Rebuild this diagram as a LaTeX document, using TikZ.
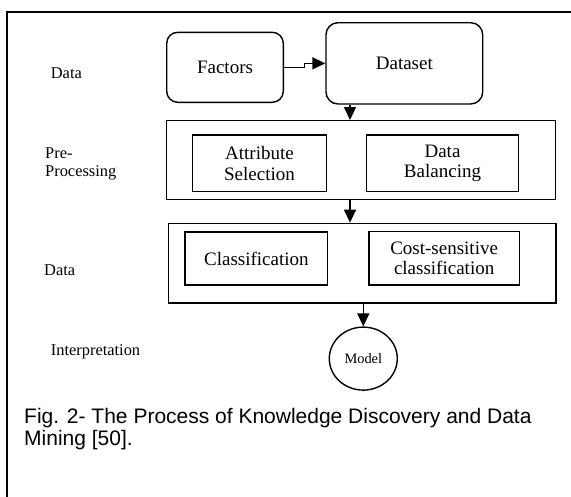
\documentclass[tikz,border=0pt]{standalone}
\usepackage{fontspec}
\setmainfont{Liberation Serif}
\newfontfamily\capfont{Liberation Sans}
\usetikzlibrary{arrows.meta,shapes.geometric}
\begin{document}
\begin{tikzpicture}[x=1pt,y=-1pt,
  rbox/.style={draw, line width=1.4pt, rounded corners=11pt, inner sep=0pt, align=center, font=\fontsize{19}{20.7}\selectfont},
  sbox/.style={draw, line width=1.4pt, inner sep=0pt, align=center, font=\fontsize{19}{20.7}\selectfont},
  lab/.style={anchor=west, align=left, inner sep=0pt, font=\fontsize{16.4}{18.3}\selectfont},
  arr/.style={line width=1.5pt, -{Triangle[length=13pt,width=12pt]}}]
\useasboundingbox (0,0) rectangle (571,496);
% outer frame
\draw[line width=1.6pt] (6.7,510) -- (6.7,11.7) -- (590,11.7);
% nodes
\node[rbox, minimum width=116.6pt, minimum height=70pt] (fac) at (225,67.3) {Factors};
\node[rbox, rounded corners=12pt, minimum width=156.7pt, minimum height=81.3pt] (ds) at (404.35,63.35) {Dataset};
\node[sbox, minimum width=388.8pt, minimum height=79pt] (pre) at (361.1,160.2) {};
\node[sbox, minimum width=134.4pt, minimum height=56.7pt] (attr) at (259.5,163.35) {Attribute\\Selection};
\node[sbox, minimum width=151.6pt, minimum height=56.7pt] (bal) at (442.5,163.35) {Data\\Balancing};
\node[sbox, minimum width=387.7pt, minimum height=79.7pt] (cls) at (362.15,263.15) {};
\node[sbox, minimum width=142.7pt, minimum height=53pt] (clf) at (256.35,258.5) {Classification};
\node[sbox, minimum width=150.3pt, minimum height=53.7pt] (cost) at (444.15,258.15) {Cost-sensitive\\classification};
\node[draw, ellipse, line width=1.4pt, inner sep=0pt, minimum width=68pt, minimum height=63pt, font=\fontsize{14.4}{16}\selectfont] (model) at (363.3,358.6) {Model};
% labels
\node[lab] (l1) at (50.7,73.3) {Data};
\node[lab] (l2) at (45,164.2) {Pre-\\Processing};
\node[lab] (l3) at (44,270) {Data};
\node[lab] (l4) at (50.7,351.7) {Interpretation};
\node[anchor=west, align=left, inner sep=0pt, font=\capfont\fontsize{21}{22.5}\selectfont] (cap) at (24,429) {Fig. 2- The Process of Knowledge Discovery and Data\\Mining [50].};
% connectors
\coordinate (c1) at (350,0);
\draw[arr] (fac.east) -- ++(20.7,0) |- (ds.west);
\draw[arr] (ds.south -| c1) -- (pre.north -| c1);
\draw[arr] (pre.south -| c1) -- (cls.north -| c1);
\draw[arr] (cls.south -| model.north) -- (model.north);
\end{tikzpicture}
\end{document}
